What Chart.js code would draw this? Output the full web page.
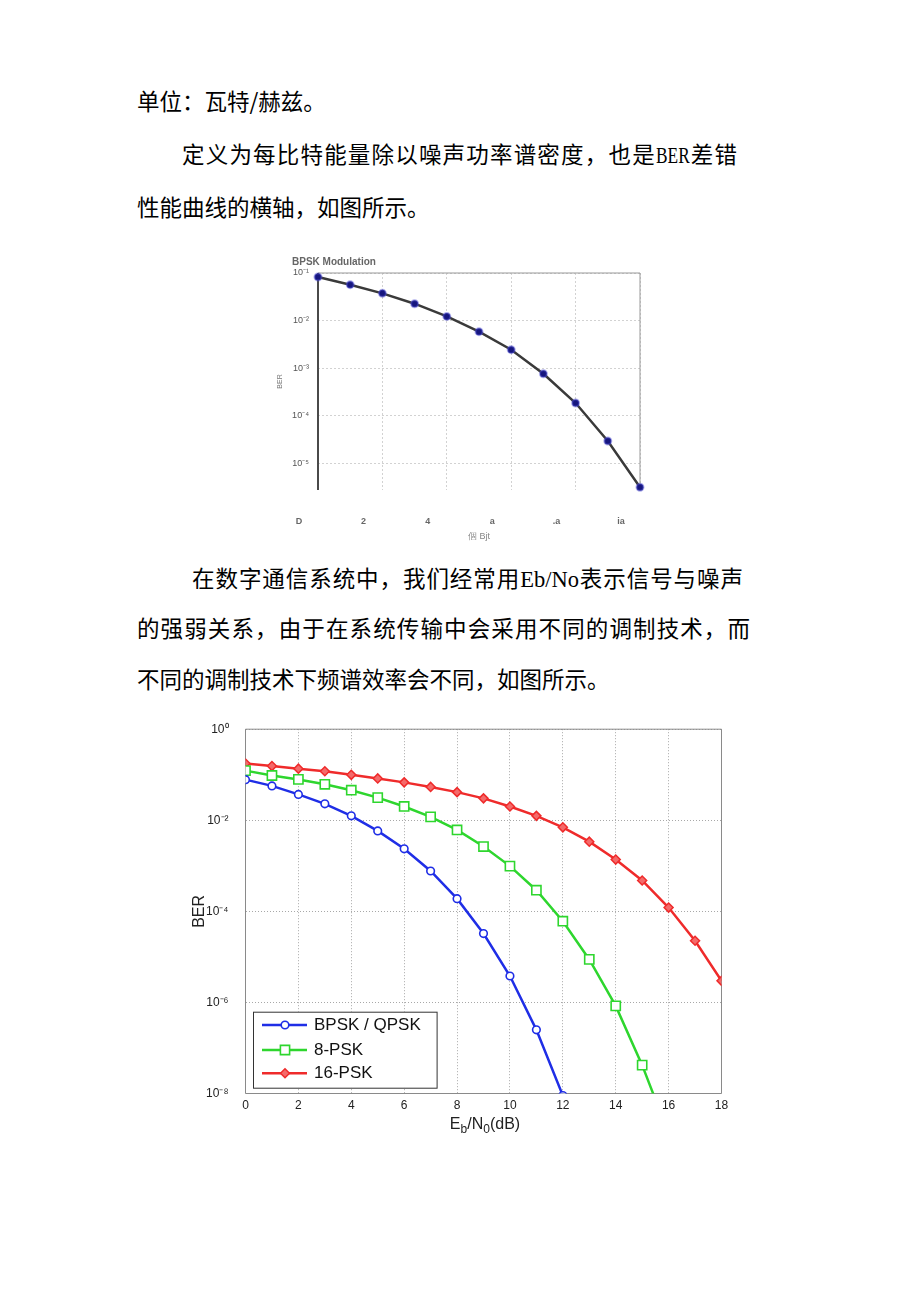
<!DOCTYPE html>
<html lang="zh">
<head>
<meta charset="utf-8">
<title>BER</title>
<script src="https://cdn.jsdelivr.net/npm/chart.js@4.4.0/dist/chart.umd.min.js"></script>
<style>
  html, body { margin: 0; padding: 0; background: #fff; }
  #pagina { position: relative; width: 920px; height: 1302px; overflow: hidden; background: #fff; }
  .linea { position: absolute; font-family: "Noto Sans CJK SC", sans-serif; font-size: 22.5px; line-height: 30px; white-space: nowrap; color: #000; }
  .just { text-align: justify; text-align-last: justify; }
  .lat { font-family: "Liberation Serif", serif; }
  .ber { display: inline-block; transform: scaleX(0.77); transform-origin: 0 50%; margin-right: -10px; }
  .dospuntos { font-family: "Noto Sans CJK TC", sans-serif; }
  #grafica1 { position: absolute; left: 270px; top: 250px; }
  #grafica2 { position: absolute; left: 180px; top: 705px; }
  #tituloX2 { position: absolute; left: 405px; top: 1114px; width: 160px; text-align: center; font: 16px "Liberation Sans", Arial, sans-serif; color: #222; line-height: 20px; }
  #tituloX2 sub { font-size: 0.75em; vertical-align: -0.3em; line-height: 0; }
</style>
</head>
<body>
<div id="pagina">
  <div class="linea" style="left:137px; top:85px;">单位<span class="dospuntos">：</span>瓦特/赫兹。</div>
  <div class="linea just" style="left:182px; top:138px; width:555px;">定义为每比特能量除以噪声功率谱密度，也是<span class="lat ber">BER</span>差错</div>
  <div class="linea" style="left:137px; top:191px;">性能曲线的横轴，如图所示。</div>

  <canvas id="grafica1" width="380" height="300"></canvas>

  <div class="linea just" style="left:192px; top:562px; width:551px;">在数字通信系统中，我们经常用<span class="lat">Eb/No</span>表示信号与噪声</div>
  <div class="linea just" style="left:137px; top:612px; width:613px;">的强弱关系，由于在系统传输中会采用不同的调制技术，而</div>
  <div class="linea" style="left:137px; top:663px;">不同的调制技术下频谱效率会不同，如图所示。</div>

  <canvas id="grafica2" width="560" height="440"></canvas>
  <div id="tituloX2">E<sub>b</sub>/N<sub>0</sub>(dB)</div>
</div>

<script>
// Datos

// Gráfica 1: BPSK Modulation
const ebnoBPSK = [0, 1, 2, 3, 4, 5, 6, 7, 8, 9, 10];
const berBPSK = [0.0824, 0.0569, 0.0374, 0.0227, 0.0123, 0.00587, 0.00246, 7.7e-4, 1.87e-4, 2.99e-5, 3.2e-6];
const etiquetasX1 = ['D', '2', '4', 'a', '.a', 'ia'];
const decadasY1 = [1e-1, 1e-2, 1e-3, 1e-4, 1e-5];
const etiquetasY1 = ['10⁻¹', '10⁻²', '10⁻³', '10⁻⁴', '10⁻⁵'];

// Gráfica 2: BPSK / 8-PSK / 16-PSK
const ebno = [0, 1, 2, 3, 4, 5, 6, 7, 8, 9, 10, 11, 12, 13, 14, 15, 16, 17, 18];
const berBPSKQPSK = [0.078, 0.0569, 0.037, 0.023, 0.0125, 0.00585, 0.00236, 7.7e-4, 1.9e-4, 3.25e-5, 3.8e-6, 2.5e-7, 9e-9];
const ber8PSK = [0.123, 0.0963, 0.079, 0.0617, 0.0458, 0.0314, 0.0201, 0.0119, 0.00614, 0.00265, 9.85e-4, 2.91e-4, 6.08e-5, 8.8e-6, 8.4e-7, 4.2e-8, 1.3e-9];
const ber16PSK = [0.177, 0.155, 0.136, 0.119, 0.0995, 0.083, 0.068, 0.054, 0.0415, 0.0303, 0.0201, 0.0125, 0.0070, 0.00339, 0.00137, 4.77e-4, 1.21e-4, 2.26e-5, 2.98e-6];
const nombresSeries = ['BPSK / QPSK', '8-PSK', '16-PSK'];
const decadasY2 = [1, 1e-2, 1e-4, 1e-6, 1e-8];
const etiquetasY2 = ['10⁰', '10⁻²', '10⁻⁴', '10⁻⁶', '10⁻⁸'];

Chart.defaults.font.family = '"Liberation Sans", Arial, sans-serif';

function puntos(xs, ys) {
  return ys.map((y, i) => ({ x: xs[i], y: y }));
}

// Título pequeño arriba a la izquierda
const tituloPlugin = {
  id: 'titulo',
  afterDraw(chart, args, o) {
    const ctx = chart.ctx;
    ctx.save();
    ctx.font = o.font;
    ctx.fillStyle = o.color;
    ctx.textBaseline = 'middle';
    ctx.fillText(o.text, o.x, o.y);
    ctx.restore();
  }
};

// Marco del área de trazado, cada lado con su estilo
const marcoPlugin = {
  id: 'marco',
  beforeDatasetsDraw(chart, args, o) {
    const ctx = chart.ctx;
    const a = chart.chartArea;
    const lados = {
      top: [a.left, a.top, a.right, a.top],
      right: [a.right, a.top, a.right, a.bottom],
      bottom: [a.left, a.bottom, a.right, a.bottom],
      left: [a.left, a.top, a.left, a.bottom]
    };
    ctx.save();
    Object.keys(lados).forEach(k => {
      const est = o[k];
      if (!est) return;
      const p = lados[k];
      ctx.strokeStyle = est.color;
      ctx.lineWidth = est.width;
      ctx.beginPath();
      ctx.moveTo(p[0], p[1]);
      ctx.lineTo(p[2], p[3]);
      ctx.stroke();
    });
    ctx.restore();
  }
};

// Leyenda dentro del área, abajo a la izquierda
const leyendaPlugin = {
  id: 'leyendaInterna',
  afterDatasetsDraw(chart, args, o) {
    const ctx = chart.ctx;
    const a = chart.chartArea;
    const x0 = a.left + o.dx;
    const y0 = a.bottom - o.dy - o.alto;
    ctx.save();
    ctx.fillStyle = '#fff';
    ctx.fillRect(x0, y0, o.ancho, o.alto);
    ctx.strokeStyle = '#333';
    ctx.lineWidth = 1;
    ctx.strokeRect(x0 + 0.5, y0 + 0.5, o.ancho, o.alto);
    chart.data.datasets.forEach((ds, i) => {
      const y = y0 + o.filas[i];
      ctx.strokeStyle = ds.borderColor;
      ctx.lineWidth = ds.borderWidth;
      ctx.beginPath();
      ctx.moveTo(x0 + 9, y);
      ctx.lineTo(x0 + 54, y);
      ctx.stroke();
      ctx.fillStyle = ds.pointBackgroundColor;
      ctx.strokeStyle = ds.pointBorderColor;
      ctx.lineWidth = ds.pointBorderWidth;
      Chart.helpers.drawPoint(ctx, {
        pointStyle: ds.pointStyle,
        radius: ds.pointRadius,
        rotation: 0,
        borderWidth: ds.pointBorderWidth
      }, x0 + 32, y);
      ctx.fillStyle = '#111';
      ctx.font = '17px "Liberation Sans", Arial, sans-serif';
      ctx.textBaseline = 'middle';
      ctx.fillText(ds.label, x0 + 61, y);
    });
    ctx.restore();
  }
};

// Alto fijo del eje x, sin el margen extra que Chart.js añade por las etiquetas
function fijarEjeX(alto) {
  return s => {
    s.height = alto;
    s.paddingLeft = 0;
    s.paddingRight = 0;
  };
}

function crearGraficaBPSK() {
  const ctx = document.getElementById('grafica1');
  new Chart(ctx, {
    type: 'line',
    data: {
      datasets: [{
        data: puntos(ebnoBPSK, berBPSK),
        borderColor: '#3a3a3a',
        borderWidth: 2.5,
        pointRadius: 3.5,
        pointBackgroundColor: '#16167e',
        pointBorderColor: 'rgba(80,80,210,0.45)',
        pointBorderWidth: 2,
        clip: { left: 6, top: 6, right: 6, bottom: 6 }
      }]
    },
    options: {
      responsive: false,
      animation: false,
      layout: { padding: { top: 23, right: 10, bottom: 0, left: 0 } },
      plugins: {
        legend: { display: false },
        tooltip: { enabled: false },
        titulo: { text: 'BPSK Modulation', x: 22, y: 12.5, font: 'bold 10px "Liberation Sans", Arial, sans-serif', color: '#666' },
        marco: {
          top: { color: '#999', width: 1 },
          right: { color: '#999', width: 1 },
          left: { color: '#4a4a4a', width: 2 }
        }
      },
      scales: {
        x: {
          type: 'linear',
          min: 0,
          max: 10,
          ticks: {
            stepSize: 2,
            callback: (v, i) => etiquetasX1[i],
            labelOffset: -19,
            padding: 26,
            font: { size: 9, weight: 'bold' },
            color: '#666',
            maxRotation: 0,
            autoSkip: false
          },
          grid: { color: '#d2d2d2', drawTicks: false },
          border: { display: false, dash: [2, 2] },
          title: { display: true, text: '個 Bjt', font: { size: 9 }, color: '#888', padding: { top: 0, bottom: 8 } },
          afterFit: fijarEjeX(60)
        },
        y: {
          type: 'logarithmic',
          min: 2.8e-6,
          max: 0.1,
          afterBuildTicks: s => { s.ticks = decadasY1.map(v => ({ value: v })); },
          ticks: {
            callback: (v, i) => etiquetasY1[i],
            padding: 9,
            font: { size: 9 },
            color: '#555'
          },
          grid: { color: '#d2d2d2', drawTicks: false },
          border: { display: false, dash: [2, 2] },
          title: { display: true, text: 'BER', font: { size: 7 }, color: '#777', padding: { top: 6, bottom: 0 } },
          afterFit: s => { s.width = 48; }
        }
      }
    },
    plugins: [tituloPlugin, marcoPlugin]
  });
}

function crearGraficaPSK() {
  const ctx = document.getElementById('grafica2');
  const recorte = { left: 0, top: 6, right: 0, bottom: 0 };
  new Chart(ctx, {
    type: 'line',
    data: {
      datasets: [{
        label: nombresSeries[0],
        data: puntos(ebno, berBPSKQPSK),
        borderColor: '#1f2ee6',
        borderWidth: 2.5,
        pointStyle: 'circle',
        pointRadius: 3.8,
        pointBackgroundColor: '#fff',
        pointBorderColor: '#1f2ee6',
        pointBorderWidth: 1.6,
        clip: recorte
      }, {
        label: nombresSeries[1],
        data: puntos(ebno, ber8PSK),
        borderColor: '#2ed62e',
        borderWidth: 2.5,
        pointStyle: 'rect',
        pointRadius: 6.5,
        pointBackgroundColor: '#fff',
        pointBorderColor: '#2ed62e',
        pointBorderWidth: 1.6,
        clip: recorte
      }, {
        label: nombresSeries[2],
        data: puntos(ebno, ber16PSK),
        borderColor: '#ef2b2b',
        borderWidth: 2.5,
        pointStyle: 'rectRot',
        pointRadius: 4.5,
        pointBackgroundColor: '#f46a6a',
        pointBorderColor: '#ef2b2b',
        pointBorderWidth: 1.5,
        clip: recorte
      }]
    },
    options: {
      responsive: false,
      animation: false,
      layout: { padding: { top: 15.7, right: 18.5, bottom: 0, left: 0 } },
      plugins: {
        legend: { display: false },
        tooltip: { enabled: false },
        marco: {
          top: { color: '#8a8a8a', width: 1 },
          right: { color: '#8a8a8a', width: 1 },
          bottom: { color: '#8a8a8a', width: 1 },
          left: { color: '#8a8a8a', width: 1 }
        },
        leyendaInterna: { dx: 7.5, dy: 5.8, ancho: 183.6, alto: 76, filas: [13.3, 38.3, 61.6] }
      },
      scales: {
        x: {
          type: 'linear',
          min: 0,
          max: 18,
          ticks: {
            stepSize: 2,
            padding: 5,
            font: { size: 12 },
            color: '#222',
            maxRotation: 0,
            autoSkip: false
          },
          grid: { color: '#a8a8a8', drawTicks: false },
          border: { display: false, dash: [1, 2] },
          afterFit: fijarEjeX(51.5)
        },
        y: {
          type: 'logarithmic',
          min: 1e-8,
          max: 1,
          afterBuildTicks: s => { s.ticks = decadasY2.map(v => ({ value: v })); },
          ticks: {
            callback: (v, i) => etiquetasY2[i],
            padding: 17,
            font: { size: 12 },
            color: '#222'
          },
          grid: { color: '#a8a8a8', drawTicks: false },
          border: { display: false, dash: [1, 2] },
          title: { display: true, text: 'BER', font: { size: 16 }, color: '#222', padding: { top: 10, bottom: 0 } },
          afterFit: s => { s.width = 65.5; }
        }
      }
    },
    plugins: [marcoPlugin, leyendaPlugin]
  });
}

crearGraficaBPSK();
crearGraficaPSK();
</script>
</body>
</html>
